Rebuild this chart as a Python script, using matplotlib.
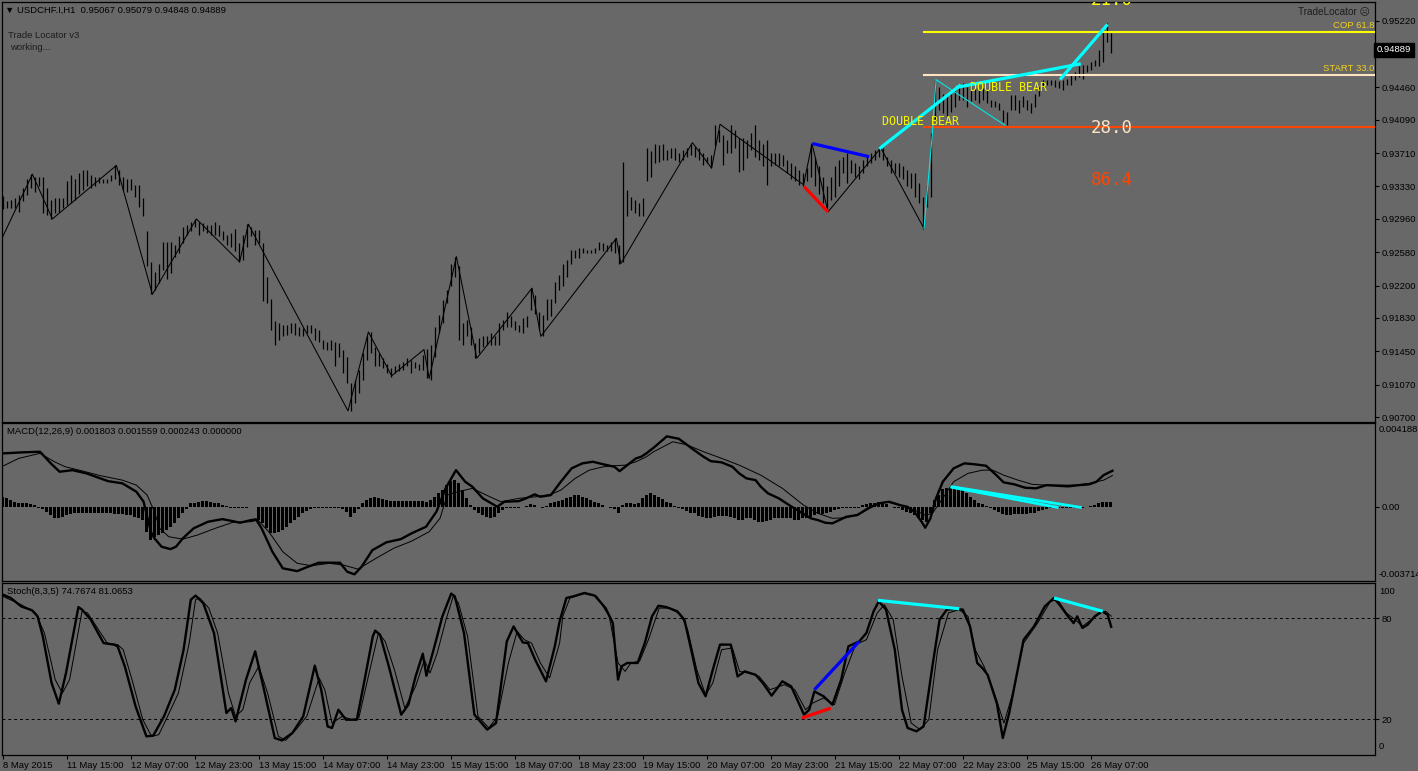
import numpy as np
import matplotlib
matplotlib.use('Agg')
import matplotlib.pyplot as plt
import matplotlib.transforms as mtrans

plt.rcParams['font.family'] = ['Liberation Sans', 'DejaVu Sans']

# ---------------- data ----------------
# H1 bars, prices in pips above 0.9000
bar_high_pips = [
    322, 316, 318, 320, 323, 331, 341, 347, 344, 344, 344, 331, 318, 320, 320, 320, 339, 346, 342, 348,
    352, 352, 346, 344, 344, 342, 342, 346, 357, 352, 344, 341, 341, 335, 335, 320, 282, 247, 236, 245,
    270, 270, 270, 266, 276, 287, 289, 293, 296, 293, 291, 289, 289, 293, 289, 282, 278, 280, 285, 268,
    278, 290, 287, 283, 283, 268, 230, 205, 179, 177, 175, 175, 177, 177, 173, 171, 175, 175, 171, 169,
    158, 156, 158, 156, 154, 147, 139, 109, 112, 124, 143, 162, 167, 150, 143, 137, 131, 126, 128, 131,
    133, 137, 135, 133, 131, 141, 148, 152, 173, 186, 204, 215, 245, 253, 242, 177, 181, 173, 154, 160,
    162, 162, 166, 162, 177, 181, 190, 185, 179, 175, 183, 185, 217, 209, 190, 186, 205, 205, 224, 232,
    245, 249, 261, 261, 263, 263, 261, 261, 263, 270, 268, 266, 270, 274, 266, 361, 329, 321, 318, 314,
    320, 377, 373, 382, 380, 382, 375, 377, 377, 371, 375, 377, 382, 379, 377, 371, 367, 369, 403, 398,
    392, 386, 403, 398, 388, 388, 386, 394, 403, 386, 382, 386, 371, 371, 371, 369, 363, 360, 356, 352,
    348, 354, 382, 367, 356, 344, 333, 344, 356, 363, 367, 371, 363, 360, 356, 363, 367, 371, 375, 379,
    377, 367, 363, 360, 360, 356, 352, 348, 348, 337, 321, 333, 394, 455, 447, 439, 436, 439, 443, 445,
    451, 447, 449, 445, 443, 445, 443, 432, 430, 428, 420, 418, 437, 437, 432, 436, 432, 428, 439, 447,
    455, 455, 455, 455, 453, 455, 456, 460, 464, 470, 472, 472, 475, 477, 489, 514, 520, 508]
bar_low_pips = [
    307, 308, 308, 309, 304, 316, 323, 331, 327, 333, 303, 301, 296, 303, 304, 308, 312, 314, 318, 325,
    329, 333, 331, 333, 337, 337, 337, 339, 342, 335, 329, 327, 329, 321, 310, 299, 242, 210, 215, 223,
    238, 228, 234, 253, 257, 268, 278, 282, 287, 278, 282, 280, 278, 278, 276, 272, 266, 264, 259, 247,
    249, 264, 276, 266, 268, 202, 200, 169, 152, 158, 162, 164, 166, 164, 162, 162, 166, 166, 158, 156,
    148, 147, 147, 128, 139, 120, 109, 77, 86, 97, 112, 135, 143, 128, 128, 126, 120, 116, 120, 122,
    124, 128, 120, 126, 124, 124, 114, 112, 139, 166, 177, 200, 219, 230, 158, 152, 162, 152, 137, 143,
    150, 152, 152, 152, 152, 169, 173, 173, 169, 167, 166, 173, 192, 188, 169, 162, 181, 185, 200, 215,
    219, 230, 245, 251, 251, 257, 257, 257, 257, 261, 259, 259, 259, 257, 245, 247, 299, 306, 303, 299,
    299, 339, 344, 360, 361, 363, 363, 365, 363, 361, 363, 367, 369, 367, 363, 358, 360, 354, 379, 384,
    358, 371, 371, 377, 350, 352, 365, 375, 367, 363, 356, 335, 356, 358, 356, 356, 348, 341, 339, 335,
    333, 339, 344, 333, 325, 314, 306, 318, 321, 333, 348, 337, 348, 344, 341, 348, 356, 360, 363, 367,
    363, 356, 348, 348, 344, 342, 333, 331, 321, 314, 285, 310, 321, 409, 420, 417, 413, 418, 424, 432,
    432, 424, 430, 432, 428, 432, 428, 424, 424, 420, 407, 403, 420, 420, 417, 424, 420, 417, 424, 436,
    447, 449, 449, 447, 445, 443, 449, 449, 455, 458, 456, 464, 466, 470, 470, 475, 498, 485]
last_close = 0.94889

# zigzag swing points (bar index, pips)
zigzag_idx = [0, 7.4, 12.4, 28.4, 37.4, 48.4, 59.2, 61.4, 86.3, 91.4, 97.2, 105.3, 106.6, 113.4,
              118.5, 132.3, 134.5, 153.4, 154.5, 172.4, 177.2, 179.3, 200.2, 202.3, 206.3, 219.5, 230.3]
zigzag_pips = [276, 347, 296, 357, 210, 296, 247, 290, 77, 167, 117, 147, 114, 253,
               137, 217, 162, 274, 245, 383, 354, 404, 335, 382, 304, 377, 285]
thin_cyan_idx = [230.3, 232.4, 233.3, 250.5]
thin_cyan_pips = [285, 394, 455, 403]

# trade locator pattern lines on price (idx0, pips0, idx1, pips1)
price_cyan = [(219.1, 376, 239.5, 449), (238.3, 446, 269.5, 473), (264.3, 455, 276.2, 518)]
price_blue = [(202.4, 382, 216.6, 367)]
price_red = [(200.3, 333, 206.3, 304)]

level_prices = [0.95093, 0.94602, 0.94012]
level_colors = ['#ffff00', '#ffe4c4', '#ff4500']
level_start = 230.3
level_labels = ['COP 61.8', 'START 33.0', '']

# MACD(12,26,9), values in 1e-5
macd_hist = [
    50, 42, 33, 25, 21, 21, 17, 12, 8, -5, -12, -25, -42, -55, -58, -50, -42, -38,
    -33, -33, -33, -33, -33, -33, -33, -33, -33, -33,
    -37, -38, -38, -42, -42, -50, -58, -67,
    -125, -167, -150, -142, -133, -117, -100, -83, -58, -33, -12,
    17, 21, 25, 29, 29, 25, 21, 17, 8, 5,
    -4, -8, -8, -5, -5, -2, 1,
    -67, -83, -108, -129, -133, -125, -117, -100, -83, -67, -50, -33, -21, -12, -8, -8, -5, -5, -8, -5,
    -5, -12, -25, -50, -33, -12,
    17, 33, 45, 50, 45, 38, 33, 29, 29, 29, 29, 29, 29, 29, 29, 29, 25, 33, 50, 67, 83, 108, 129, 133,
    117, 83, 42, 8,
    -17, -33, -42, -50, -55, -50, -33, -17, -5, -5, -4, -4, -2, 5, 12, 8, 1, -4, 5, 17, 25, 29,
    33, 42, 50, 58, 58, 50, 45, 33, 25, 17, 8, 1, -5, -12, -33, 8, 17, 17, 12, 17, 42,
    58, 67, 58, 50, 38, 25, 17, 5, -5, -12, -21, -29, -33, -45, -50, -55, -55,
    -50, -45, -45, -45, -50, -55, -67, -67, -58, -55, -67, -75, -75, -71, -67, -58, -55, -55, -58, -58,
    -67, -67, -58, -55, -50, -42, -38, -38, -33, -25, -17, -12, -8, -5, -5, -5, -5,
    8, 12, 17, 21, 25, 21, 12, 1, -5, -8, -17, -25, -33, -42, -55, -67, -75,
    -33, 33, 58, 88, 95, 95, 95, 92, 83, 67, 50, 33, 21, 12, 4, -8, -17, -25, -38, -42, -42, -38, -38,
    -38, -38, -33, -29, -21, -17, -12, -8, -5, -5, -4, -4, -4, -4, -5, -4, 1, 5, 8, 17, 25, 25, 24]
macd_main_idx = [
    0.2, 4.9, 9.3, 12, 14.2, 17.4, 20.9, 26.3, 29.9, 33.4, 35.2, 37, 37.9, 39.7, 41.9, 43.3, 45, 47.7,
    51.3, 54.9, 57.5, 59.3, 62, 63.3, 64.7, 67.4, 70, 73.6, 76.3, 79, 81.6, 84.3, 86.1, 87.9, 89.7, 92.4,
    95.9, 99.5, 102.2, 105.8, 108.4, 110.7, 113.3, 115.6, 117.4, 120, 123.6, 125.4, 129, 130.8, 133,
    134.3, 137, 139.5, 142.2, 144.9, 147.5, 150.2, 152.9, 154.2, 155.6, 158.3, 159.6, 160.9, 163, 166,
    169, 173.4, 175.2, 177, 179.7, 182.4, 184.1, 185.9, 188.2, 189.5, 191.3, 194, 196.6, 199.3, 202,
    203.8, 205.6, 207.4, 209.1, 210.9, 213.6, 216.3, 219, 221.6, 224.3, 226.1, 227.9, 229.7, 230.6,
    231.9, 233.3, 235, 237.7, 240.4, 243.1, 245.8, 248.4, 250.2, 252.9, 255.6, 258.3, 260.9, 263.6,
    266.3, 269, 271.6, 273.4, 275.2, 277.4]
macd_main = [
    267, 272, 275, 217, 175, 183, 167, 128, 117, 75, 25, -125, -158, -200, -212, -200, -158, -108,
    -75, -62, -72, -80, -67, -63, -108, -225, -308, -322, -300, -280, -280, -280, -325, -338, -300, -217,
    -178, -162, -133, -100, -25, 92, 183, 125, 100, 42, 0, 25, 28, 42, 62,
    50, 58, 125, 192, 217, 225, 212, 200, 178, 200, 242, 250, 267, 300, 352,
    340, 275, 250, 228, 222, 200, 167, 142, 133, 100, 67, 42, 8, -25, -58,
    -67, -80, -83, -67, -50, -42, -8, 17, 25, 8, 0, -25, -75, -105,
    -58, 42, 125, 192, 217, 212, 205, 158, 122, 112, 95, 92, 108, 105,
    102, 108, 112, 125, 158, 180]
macd_signal_idx = [
    0.2, 4, 9.3, 12.9, 15.6, 19.1, 24.5, 29.9, 33.4, 36.1, 37.9, 39.2, 41.5, 45, 48.6, 53.1, 57.5, 62,
    63.8, 66.5, 70, 73.6, 77.2, 81.6, 85.2, 88.8, 93.3, 97.7, 102.2, 106.6, 109.3, 111.1, 113.8, 117.4,
    120.9, 124.5, 129, 133.4, 137, 139.5, 143.1, 146.6, 150.2, 152.9, 155.6, 158.3, 160.9, 162.7, 167.5,
    171, 175.2, 179.7, 184.1, 189.5, 194.9, 200.2, 203.8, 207.4, 210.9, 214.5, 218.1, 220.8, 224.3,
    227.9, 230.6, 232.4, 235, 237.7, 241.3, 244.9, 247.5, 250.2, 253.8, 257.4, 260.9, 264.5, 268.1,
    271.6, 275.2, 277.4]
macd_signal = [
    205, 242, 267, 225, 200, 183, 155, 133, 108, 58, -25, -108, -150, -162, -142, -108, -78, -75,
    -67, -125, -225, -283, -295, -283, -292, -312, -258, -208, -172, -125, -58, 58, 75, 92,
    58, 25, 42, 50, 62, 83, 142, 183, 200, 205, 208, 225, 250, 275, 325,
    310, 275, 242, 208, 158, 92, 8, -33, -58, -55, -33, 8, 25, 8,
    -17, -42, -33, 42, 125, 167, 183, 183, 158, 133, 112, 108, 108, 108,
    117, 133, 156]
macd_cyan = [(237.3, 100, 269.4, -3), (237.3, 97, 263.6, -3)]

# Stochastic(8,3,5)
stoch_main_idx = [
    0, 2, 4.6, 7.3, 8.7, 10, 12.2, 14, 15.8, 18.9, 19.8, 22, 25.2, 27.8, 28.7, 30.5, 33.2, 35.9, 37.6,
    40.3, 43, 45.2, 47, 48.2, 50.1, 52.8, 55.9, 57.1, 58.2, 60.8, 63.1, 65.3, 68, 69.8, 72.4, 75.1, 78,
    79.6, 81.2, 82.3, 83.9, 85.8, 88.5, 90.3, 92.5, 93.1, 94.3, 96.5, 99.6, 101.4, 103.2, 105, 105.9,
    107.7, 109.9, 112.1, 113, 115.3, 117.9, 121.1, 123.3, 126, 127.7, 130, 131.3, 133.1, 135.8, 138,
    139.2, 140.9, 142.7, 145.4, 148, 150.7, 152.5, 153.8, 154.7, 156.1, 158.7, 160.5, 162.3, 163.9,
    165.9, 168.6, 170.4, 172.1, 173.9, 175.7, 177.5, 179.3, 182, 183.7, 185.5, 188.2, 190, 192.2,
    194.9, 197.1, 200.3, 201.6, 202.9, 205.2, 207.4, 209.6, 211.4, 214.1, 215.9, 217.7, 219, 220.8,
    223, 224.8, 226.2, 228.4, 230.2, 232.4, 234.2, 236, 238.2, 240, 241.8, 243.6, 244.9, 246.2, 248.5,
    250, 251.6, 253.4, 255.2, 257.8, 260.5, 262.8, 264.5, 266.3, 267.7, 268.6, 269.9, 271.2, 273,
    274.8, 276.2, 277.1]
stoch_main = [
    93.9, 91.9, 86.9, 84.6, 81, 69.1, 41.4, 29.1, 47.3, 86.5, 85, 79, 65.1, 64.2, 63.2, 51.3, 27.5,
    9.7, 10.1, 21.6, 37.4, 61.2, 90.9, 93.3, 88.9, 71.1, 23.6, 26.5, 18.6, 43.4, 60.2, 37.4, 8.7, 7.3,
    11.7, 21.6, 51.7, 37.4, 15.6, 14.7, 25.5, 19.6, 19.6, 41.4, 69.1, 72.5, 70.1, 51.3, 22.6, 28.5,
    45.3, 58.8, 45.7, 61.2, 81, 94.5, 92.9, 71.1, 22.6, 13.7, 17.6, 66.1, 75, 65.5, 65.1, 55.2, 42.4,
    63.2, 78, 91.9, 92.9, 94.9, 93.3, 85.9, 77, 43.4, 51.3, 53.3, 53.3, 65.1, 81, 87.3, 86.5, 84, 79,
    61.2, 41.4, 33.5, 49.3, 64.2, 64.2, 45.3, 48.3, 46.3, 41.4, 33.9, 42.4, 39.4, 22.6, 25.5, 36.4,
    33.5, 28.5, 43.4, 63.2, 66.1, 71.1, 84, 89.9, 85, 61.2, 25.5, 14.7, 12.7, 15.6, 51.3, 79, 85,
    85.3, 85, 75, 53.3, 50.3, 46.3, 29.5, 8.7, 23.6, 45.3, 67.1, 75, 86.9, 91.9, 86.9, 81, 77, 81,
    74.1, 76, 81, 84, 82, 74.8]
stoch_signal_idx = [
    0, 4.6, 8.2, 10.4, 13.1, 14.9, 16.7, 19.8, 21.2, 23.4, 26.1, 28.7, 30.1, 32.3, 35, 37.2, 39, 41.2,
    43.9, 46.6, 48.2, 49.2, 51.5, 53.7, 56.4, 58.2, 60, 61.7, 64, 66.2, 68.9, 70.7, 73.3, 76, 79.1,
    80.5, 82.3, 84.9, 87.2, 89, 91.2, 93.9, 95.6, 97.9, 100.5, 103.2, 105.4, 106.8, 108.6, 110.8,
    112.6, 113.9, 116.2, 118.8, 121.5, 123.7, 126.4, 128.6, 130.4, 132.2, 134.4, 136.7, 139.2, 140,
    141.8, 145.4, 148.5, 151.6, 153.8, 155.6, 157, 159.2, 161.4, 164.1, 166.8, 169.5, 171.2, 173.5,
    175.7, 177.5, 179.7, 182.4, 184.2, 186.4, 189.1, 191.8, 195.4, 198, 200.7, 202.5, 205.2, 207.9,
    210.5, 213.2, 215.9, 218.6, 220.4, 222.6, 224.8, 227.1, 229.3, 231.5, 233.7, 236.4, 239.1, 241.3,
    243.1, 245.3, 247.6, 250.3, 252.5, 255.2, 258.7, 261.9, 263.7, 265.9, 268.1, 269.9, 272.1, 274.4,
    275.7, 277.1]
stoch_signal = [
    92.9, 87.9, 83, 71.1, 43.4, 35.4, 43.4, 84, 83, 75, 65.1, 64.2, 61.2, 43.4, 19.6, 9.7, 10.7, 21.6,
    35.4, 65.1, 90.9, 91.9, 85.9, 71.1, 35.4, 21.6, 25.5, 41.4, 51.3, 35.4, 9.7, 7.3, 13.7, 21.6, 44.4,
    37.4, 17.6, 21.6, 19.6, 20.6, 43.4, 71.1, 66.1, 49.3, 26.5, 39.4, 55.2, 47.3, 59.2, 79,
    92.9, 88.9, 69.1, 21.6, 14.7, 21.6, 53.3, 72.1, 67.1, 65.1, 53.3, 44.4, 65.1, 81,
    91.9, 94.5, 92.9, 81, 53.3, 48.3, 53.3, 54.3, 67.1, 85.9, 85.9, 82, 73.1, 49.3,
    34.4, 41.4, 61.2, 62.2, 48.3, 47.3, 45.3, 37.4, 40.4, 37.4, 25.5, 29.5, 32.5, 28.5,
    47.3, 64.2, 67.1, 83, 87.9, 79, 45.3, 17.6, 13.7, 19.6, 61.2, 83, 85, 81,
    61.2, 51.3, 37.4, 17.6, 35.4, 65.1, 77, 89.9, 90.9, 83, 79, 75, 79, 83,
    84, 81.1]
stoch_blue = [(202.9, 37.4, 214.1, 66.1)]
stoch_red = [(199.8, 20.6, 207, 26.5)]
stoch_cyan = [(218.8, 90.5, 239.1, 85.5), (262.8, 91.9, 275, 84)]

price_ticks = [0.9522, 0.9484, 0.9446, 0.9409, 0.9371, 0.9333, 0.9296, 0.9258, 0.9220, 0.9183,
               0.9145, 0.9107, 0.9070]
date_tick_idx = list(range(0, 273, 16))
date_labels = ['8 May 2015', '11 May 15:00', '12 May 07:00', '12 May 23:00', '13 May 15:00',
               '14 May 07:00', '14 May 23:00', '15 May 15:00', '18 May 07:00', '18 May 23:00',
               '19 May 15:00', '20 May 07:00', '20 May 23:00', '21 May 15:00', '22 May 07:00',
               '22 May 23:00', '25 May 15:00', '26 May 07:00']


def pips(v):
    return 0.9 + np.asarray(v, dtype=float) / 10000.0


def pair(xs, ys):
    n = min(len(xs), len(ys))
    return np.asarray(xs[:n], dtype=float), np.asarray(ys[:n], dtype=float)


# ---------------- layout ----------------
W, H = 1418, 771
BG = '#686868'
FS = 6.8
XMIN = -0.2
XMAX = XMIN + (1375 - 2) / 4.0

fig = plt.figure(figsize=(W / 100, H / 100), dpi=100, facecolor=BG)


def panel(top, bottom):
    ax = fig.add_axes([2 / W, 1 - bottom / H, (1375 - 2) / W, (bottom - top) / H])
    ax.set_facecolor(BG)
    for s in ax.spines.values():
        s.set_color('black')
        s.set_linewidth(0.9)
    ax.set_xlim(XMIN, XMAX)
    ax.yaxis.tick_right()
    ax.tick_params(axis='y', direction='out', length=3, width=0.8, pad=2,
                   labelsize=FS, colors='black')
    ax.set_xticks([])
    return ax


ax_p = panel(2, 422)
ax_m = panel(423, 581)
ax_s = panel(583, 755)

# ---------------- price panel ----------------
ax_p.set_ylim(0.90643, 0.95435)
hi, lo = pair(bar_high_pips, bar_low_pips)
ax_p.vlines(np.arange(len(hi)), pips(lo), pips(hi), colors='black', lw=0.9)
zx, zy = pair(zigzag_idx, zigzag_pips)
ax_p.plot(zx, pips(zy), color='black', lw=0.75)
cx, cy = pair(thin_cyan_idx, thin_cyan_pips)
ax_p.plot(cx, pips(cy), color='#00e5e5', lw=0.8, zorder=4)

for segs, col in ((price_red, '#ff0000'), (price_blue, '#0000ff'), (price_cyan, '#00ffff')):
    for x0, y0, x1, y1 in segs:
        ax_p.plot([x0, x1], pips([y0, y1]), color=col, lw=2.3, solid_capstyle='butt', zorder=5)

for p, col, lab in zip(level_prices, level_colors, level_labels):
    ax_p.plot([level_start, XMAX], [p, p], color=col, lw=1.5, zorder=3)
    if lab:
        ax_p.text(XMAX - 0.2, p + 0.00028, lab, color='#f0d020', fontsize=FS,
                  ha='right', va='bottom', zorder=6)

mono = 'DejaVu Sans Mono'
ax_p.text(229.5, 0.94069, 'DOUBLE BEAR', color='#f5f500', fontsize=8.4, family=mono,
          ha='center', va='center', zorder=6)
ax_p.text(251.4, 0.94457, 'DOUBLE BEAR', color='#f5f500', fontsize=8.4, family=mono,
          ha='center', va='center', zorder=6)
ax_p.text(277.2, 0.93998, '28.0', color='#ffe4c4', fontsize=12.5, family=mono,
          ha='center', va='center', zorder=6)
ax_p.text(277.2, 0.93404, '86.4', color='#ff4500', fontsize=12.5, family=mono,
          ha='center', va='center', zorder=6)
ax_p.text(277.2, 0.95462, '21.0', color='#ffff00', fontsize=12.5, family=mono,
          ha='center', va='center', zorder=6, clip_on=True)

ax_p.set_yticks(price_ticks)
ax_p.set_yticklabels([f'{v:.5f}' for v in price_ticks])
blend = mtrans.blended_transform_factory(ax_p.transAxes, ax_p.transData)
ax_p.text(1.0015, last_close, f'{last_close:.5f}', transform=blend, color='white', fontsize=FS,
          ha='left', va='center', clip_on=False, zorder=10,
          bbox=dict(boxstyle='square,pad=0.3', fc='black', ec='black'))

ax_p.text(0.9964, 0.978, 'TradeLocator \u2639', transform=ax_p.transAxes, color='#1c1c1c',
          fontsize=FS + 0.4, ha='right', va='center')

fig.text(5 / W, 1 - 10 / H, '\u25BC USDCHF.I,H1  0.95067 0.95079 0.94848 0.94889',
         color='black', fontsize=FS, ha='left', va='center')
fig.text(8 / W, 1 - 35 / H, 'Trade Locator v3', color='#1c1c1c', fontsize=FS, va='center')
fig.text(10 / W, 1 - 48 / H, 'working...', color='#1c1c1c', fontsize=FS, va='center')

# ---------------- MACD panel ----------------
ax_m.set_ylim(-0.003714, 0.004188)
hist = np.asarray(macd_hist, dtype=float) * 1e-5
ax_m.bar(np.arange(len(hist)), hist, width=0.72, color='black', linewidth=0)
mx, my = pair(macd_main_idx, macd_main)
ax_m.plot(mx, my * 1e-5, color='black', lw=1.7)
sx, sy = pair(macd_signal_idx, macd_signal)
ax_m.plot(sx, sy * 1e-5, color='black', lw=0.7)
for x0, y0, x1, y1 in macd_cyan:
    ax_m.plot([x0, x1], [y0 * 1e-5, y1 * 1e-5], color='#00ffff', lw=2.0, zorder=5)
ax_m.set_yticks([0])
ax_m.set_yticklabels(['0.00'])
ax_m.text(1 + 4 / 1373, 0.956, '0.004188', transform=ax_m.transAxes, fontsize=FS,
          ha='left', va='center', clip_on=False)
ax_m.text(1 + 4 / 1373, 0.044, '-0.003714', transform=ax_m.transAxes, fontsize=FS,
          ha='left', va='center', clip_on=False)
fig.text(7 / W, 1 - 431 / H, 'MACD(12,26,9) 0.001803 0.001559 0.000243 0.000000',
         color='black', fontsize=FS, va='center')

# ---------------- Stochastic panel ----------------
ax_s.set_ylim(-1.37, 100.8)
for lvl in (20, 80):
    ax_s.axhline(lvl, color='black', lw=0.7, ls=(0, (3, 3)))
tx, ty = pair(stoch_main_idx, stoch_main)
ax_s.plot(tx, ty, color='black', lw=1.7)
gx, gy = pair(stoch_signal_idx, stoch_signal)
ax_s.plot(gx, gy, color='black', lw=0.7)
for segs, col in ((stoch_red, '#ff0000'), (stoch_blue, '#0000ff'), (stoch_cyan, '#00ffff')):
    for x0, y0, x1, y1 in segs:
        ax_s.plot([x0, x1], [y0, y1], color=col, lw=2.3, solid_capstyle='butt', zorder=5)
ax_s.set_yticks([20, 80])
ax_s.set_yticklabels(['20', '80'])
ax_s.text(1 + 4 / 1373, 0.953, '100', transform=ax_s.transAxes, fontsize=FS,
          ha='left', va='center', clip_on=False)
ax_s.text(1 + 4 / 1373, 0.052, '0', transform=ax_s.transAxes, fontsize=FS,
          ha='left', va='center', clip_on=False)
fig.text(7 / W, 1 - 592 / H, 'Stoch(8,3,5) 74.7674 81.0653', color='black',
         fontsize=FS, va='center')

ax_s.set_xticks(date_tick_idx)
ax_s.set_xticklabels(date_labels, ha='left')
ax_s.tick_params(axis='x', direction='out', length=3, width=0.8, pad=1.5,
                 labelsize=FS, colors='black')

fig.savefig('out.png', dpi=100, facecolor=BG)
